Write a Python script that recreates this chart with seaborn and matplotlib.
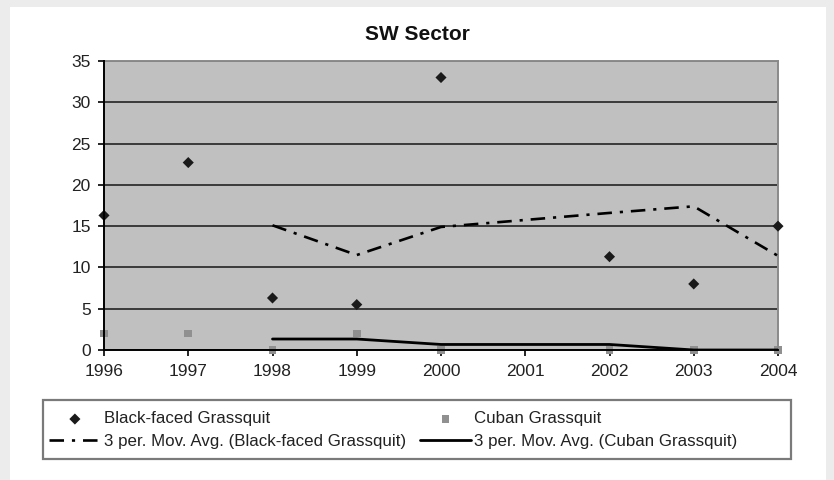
import numpy as np
import pandas as pd
import seaborn as sns
import matplotlib.pyplot as plt
from matplotlib.patches import Rectangle

# Annual counts, SW sector (no survey in 2001)
years = [1996, 1997, 1998, 1999, 2000, 2001, 2002, 2003, 2004]
black_faced = [16.3, 22.7, 6.3, 5.5, 33.0, np.nan, 11.3, 8.0, 15.0]
cuban = [2.0, 2.0, 0.0, 2.0, 0.0, np.nan, 0.0, 0.0, 0.0]

# 3-period moving averages (trendlines)
ma_years = [1998, 1999, 2000, 2002, 2003, 2004]
black_faced_ma = [15.1, 11.5, 14.9, 16.6, 17.4, 11.4]
cuban_ma = [1.33, 1.33, 0.67, 0.67, 0.0, 0.0]

labels = ["Black-faced Grassquit", "Cuban Grassquit",
          "3 per. Mov. Avg. (Black-faced Grassquit)",
          "3 per. Mov. Avg. (Cuban Grassquit)"]

counts = pd.DataFrame({"year": years, "bf": black_faced, "cu": cuban})
trend = pd.DataFrame({"year": ma_years, "bf": black_faced_ma, "cu": cuban_ma})

sns.set_theme(style="white")
plt.rcParams["font.family"] = ["Liberation Sans", "DejaVu Sans"]

W, H = 834, 480
fig = plt.figure(figsize=(W / 100, H / 100), dpi=100, facecolor="#ececec")

# white chart panel and legend frame, kept behind the axes
fig.patches.append(Rectangle((10 / W, 0), 816 / W, 473 / H,
                             transform=fig.transFigure, facecolor="white",
                             edgecolor="none", zorder=-2))
fig.patches.append(Rectangle((43 / W, 21 / H), 748 / W, 59 / H,
                             transform=fig.transFigure, facecolor="white",
                             edgecolor="#7a7a7a", lw=1.6, zorder=-1))

ax = fig.add_axes([104 / W, 130 / H, 674 / W, 289 / H])
ax.set_facecolor("#c0c0c0")

sns.lineplot(data=trend, x="year", y="bf", ax=ax, color="black", lw=1.9,
             linestyle=(0, (5.5, 3, 1.2, 3)), zorder=3, label=labels[2])
sns.lineplot(data=trend, x="year", y="cu", ax=ax, color="black", lw=2.0,
             zorder=3, label=labels[3])
sns.scatterplot(data=counts, x="year", y="bf", ax=ax, marker="D", s=32,
                color="#1a1a1a", edgecolor="none", zorder=4, clip_on=False,
                label=labels[0])
sns.scatterplot(data=counts, x="year", y="cu", ax=ax, marker="s", s=30,
                color="#909090", edgecolor="none", zorder=2, clip_on=False,
                label=labels[1])
ax.get_legend().remove()

ax.set_xlim(1996, 2004)
ax.set_ylim(0, 35)
ax.set_xticks(years)
ax.set_yticks(range(0, 36, 5))
ax.set_xlabel("")
ax.set_ylabel("")
ax.grid(axis="y", color="#3a3a3a", lw=1.4)
ax.set_axisbelow(True)
ax.tick_params(axis="both", length=4, width=1.2, color="black",
               labelsize=12.5, labelcolor="#222222", direction="out")
ax.tick_params(axis="y", pad=5.5)
ax.tick_params(axis="x", pad=6)
ax.tick_params(left=True, bottom=True)
for side in ("left", "bottom"):
    ax.spines[side].set_color("black")
    ax.spines[side].set_linewidth(1.4)
    ax.spines[side].set_zorder(5)
for side in ("top", "right"):
    ax.spines[side].set_color("#8a8a8a")
    ax.spines[side].set_linewidth(1.4)

fig.text(417 / W, 1 - 35 / H, "SW Sector", ha="center", va="center",
         fontsize=15, fontweight="bold", color="#111111")

hs, ls = ax.get_legend_handles_labels()
lookup = dict(zip(ls, hs))
order = [labels[0], labels[2], labels[1], labels[3]]
fig.legend([lookup[k] for k in order], order, ncol=2, loc="upper left",
           bbox_to_anchor=(41 / W, 1 - 403 / H), frameon=False,
           fontsize=12.2, handlelength=3.0, handletextpad=0.2,
           columnspacing=0.85, labelspacing=0.42, borderpad=0,
           labelcolor="#222222", scatterpoints=1)

fig.savefig("out.png", dpi=100, facecolor=fig.get_facecolor())
